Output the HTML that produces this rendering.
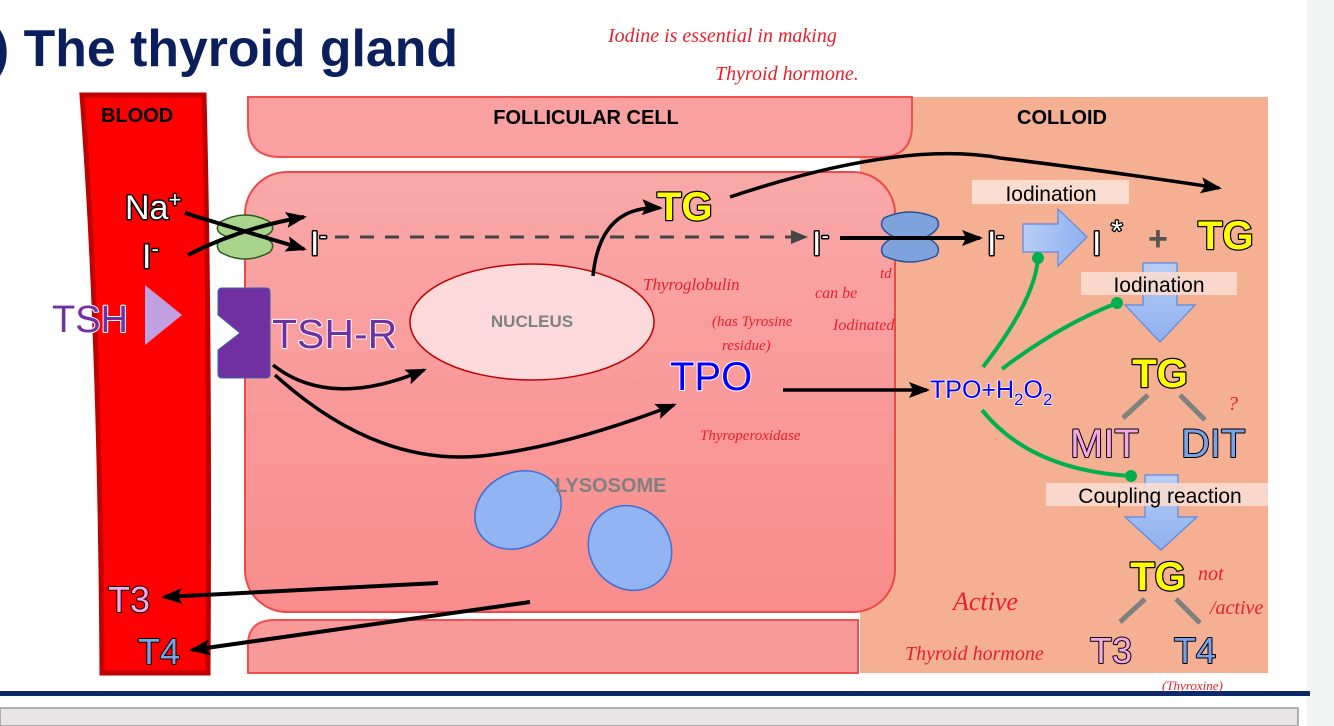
<!DOCTYPE html>
<html><head><meta charset="utf-8"><style>
html,body{margin:0;padding:0;background:#fff;width:1334px;height:726px;overflow:hidden}
svg{display:block}
.o{paint-order:stroke;stroke-linejoin:round}
</style></head><body>
<svg width="1334" height="726" viewBox="0 0 1334 726" xmlns="http://www.w3.org/2000/svg" font-family="Liberation Sans, sans-serif">
<defs>
<linearGradient id="cg" x1="0" y1="0" x2="0" y2="1"><stop offset="0" stop-color="#f9a8a8"/><stop offset="1" stop-color="#f98c8c"/></linearGradient>
<linearGradient id="ba" x1="0" y1="0" x2="1" y2="0"><stop offset="0" stop-color="#b8cdf5"/><stop offset="1" stop-color="#8fb0f0"/></linearGradient>
<linearGradient id="bd" x1="0" y1="0" x2="0" y2="1"><stop offset="0" stop-color="#b8cdf5"/><stop offset="1" stop-color="#8fb0f0"/></linearGradient>
<marker id="ah" markerWidth="22" markerHeight="18" refX="18" refY="9" orient="auto" markerUnits="userSpaceOnUse"><path d="M0,1 L21,9 L0,17 L4,9z" fill="#000"/></marker>
<marker id="ag" markerWidth="18" markerHeight="16" refX="15" refY="8" orient="auto" markerUnits="userSpaceOnUse"><path d="M0,1 L17,8 L0,15z" fill="#444"/></marker>
</defs>
<rect x="1307" y="0" width="27" height="726" fill="#f3f4f4"/>
<text x="-8" y="66" font-size="52" font-weight="bold" fill="#0b1f5c" textLength="466" lengthAdjust="spacingAndGlyphs">) The thyroid gland</text>
<rect x="860" y="97" width="408" height="576" fill="#f5af92"/>
<path d="M248,97 H912 V125 Q912,157 880,157 H280 Q248,157 248,125 Z" fill="#f9a0a0" stroke="#f05050" stroke-width="2"/>
<rect x="245" y="172" width="650" height="440" rx="42" fill="url(#cg)" stroke="#f04848" stroke-width="2"/>
<path d="M248,673 V645 Q248,620 275,620 H858 V673 Z" fill="#f99a9a" stroke="#f05050" stroke-width="2"/>
<path d="M82,95 H204 Q210,330 208,673 H102 Q100,330 82,95 Z" fill="#ff0000" stroke="#c00000" stroke-width="5"/>
<text x="101" y="122" font-size="20" font-weight="bold">BLOOD</text>
<text x="586" y="124" font-size="20" font-weight="bold" text-anchor="middle">FOLLICULAR CELL</text>
<text x="1062" y="124" font-size="20" font-weight="bold" text-anchor="middle">COLLOID</text>
<rect x="0" y="691" width="1310" height="5" fill="#0b2a6a"/>
<rect x="0" y="708" width="1298" height="18" fill="#e8e6e6" stroke="#999" stroke-width="1.5"/>
<ellipse cx="532" cy="322" rx="122" ry="58" fill="#fcd9da" stroke="#c00000" stroke-width="1.5"/>
<text x="532" y="327" font-size="17" font-weight="bold" fill="#808080" text-anchor="middle">NUCLEUS</text>
<ellipse cx="518" cy="510" rx="45" ry="37" transform="rotate(-30 518 510)" fill="#93b4f3" stroke="#3a6fd8" stroke-width="1.5"/>
<ellipse cx="630" cy="548" rx="44" ry="40" transform="rotate(50 630 548)" fill="#93b4f3" stroke="#3a6fd8" stroke-width="1.5"/>
<text x="555" y="492" font-size="20" font-weight="bold" fill="#808080">LYSOSOME</text>
<text x="125" y="219" font-size="34" fill="#fff" stroke="#000" stroke-width="3" class="o">Na<tspan font-size="22" dy="-12">+</tspan></text>
<text x="142" y="268" font-size="34" fill="#fff" stroke="#000" stroke-width="3" class="o">I<tspan font-size="22" dy="-12">-</tspan></text>
<path d="M220,222 Q245,208 270,222 Q278,232 262,237 Q278,242 270,252 Q245,266 220,252 Q212,242 228,237 Q212,232 220,222Z" fill="#a8d48c" stroke="#2d5a1e" stroke-width="1.5"/>
<path d="M185,213 Q240,230 304,249" fill="none" stroke="#000" stroke-width="4" marker-end="url(#ah)"/>
<path d="M188,255 Q240,228 304,217" fill="none" stroke="#000" stroke-width="4" marker-end="url(#ah)"/>
<text x="310" y="255" font-size="34" fill="#fff" stroke="#000" stroke-width="3" class="o">I<tspan font-size="22" dy="-12">-</tspan></text>
<line x1="335" y1="237" x2="806" y2="237" stroke="#444" stroke-width="3" stroke-dasharray="14,11" marker-end="url(#ag)"/>
<text x="812" y="255" font-size="34" fill="#fff" stroke="#000" stroke-width="3" class="o">I<tspan font-size="22" dy="-12">-</tspan></text>
<path d="M884,218 Q910,206 936,218 Q944,228 926,237 Q944,246 936,256 Q910,268 884,256 Q876,246 894,237 Q876,228 884,218Z" fill="#7ea3dc" stroke="#2a4f9c" stroke-width="1.5"/>
<line x1="840" y1="238" x2="980" y2="238" stroke="#000" stroke-width="4" marker-end="url(#ah)"/>
<text x="987" y="255" font-size="34" fill="#fff" stroke="#000" stroke-width="3" class="o">I<tspan font-size="22" dy="-12">-</tspan></text>
<rect x="972" y="180" width="157" height="24" fill="#fadcd0"/>
<text x="1051" y="201" font-size="21" text-anchor="middle">Iodination</text>
<path d="M1023,224 H1058 V209 L1087,237 L1058,266 V252 H1023 Z" fill="url(#ba)" stroke="#5a8ae0" stroke-width="1.2"/>
<text x="1092" y="255" font-size="34" fill="#fff" stroke="#000" stroke-width="3" class="o">I</text>
<text x="1111" y="241" font-size="30" fill="#fff" stroke="#000" stroke-width="2.5" class="o">*</text>
<text x="1148" y="250" font-size="34" font-weight="bold" fill="#555">+</text>
<text x="1198" y="249" font-size="40" font-weight="bold" fill="#ffff00" stroke="#000" stroke-width="2.5" class="o">TG</text>
<path d="M1143,263 H1177 V305 H1195 L1160,342 L1125,305 H1143 Z" fill="url(#bd)" stroke="#5a8ae0" stroke-width="1.2"/>
<rect x="1081" y="272" width="156" height="23" fill="#fadcd0" opacity="0.9"/>
<text x="1159" y="292" font-size="21" text-anchor="middle">Iodination</text>
<text x="1160" y="387" font-size="40" font-weight="bold" fill="#ffff00" stroke="#000" stroke-width="2.5" class="o" text-anchor="middle">TG</text>
<line x1="1148" y1="395" x2="1123" y2="418" stroke="#808080" stroke-width="5"/>
<line x1="1180" y1="395" x2="1205" y2="420" stroke="#808080" stroke-width="5"/>
<text x="1070" y="457" font-size="40" fill="#f4a8e8" stroke="#000" stroke-width="2" class="o">MIT</text>
<text x="1181" y="457" font-size="40" fill="#7aa2e6" stroke="#000" stroke-width="2" class="o">DIT</text>
<path d="M1145,475 H1178 V517 H1197 L1161,550 L1125,517 H1145 Z" fill="url(#bd)" stroke="#5a8ae0" stroke-width="1.2"/>
<rect x="1046" y="483" width="222" height="23" fill="#fadcd0" opacity="0.9"/>
<text x="1160" y="503" font-size="21" text-anchor="middle">Coupling reaction</text>
<text x="1158" y="590" font-size="40" font-weight="bold" fill="#ffff00" stroke="#000" stroke-width="2.5" class="o" text-anchor="middle">TG</text>
<line x1="1145" y1="599" x2="1120" y2="622" stroke="#808080" stroke-width="5"/>
<line x1="1176" y1="599" x2="1200" y2="623" stroke="#808080" stroke-width="5"/>
<text x="1090" y="663" font-size="36" fill="#f4a8e8" stroke="#000" stroke-width="2" class="o">T3</text>
<text x="1174" y="663" font-size="36" fill="#7aa2e6" stroke="#000" stroke-width="2" class="o">T4</text>
<text x="52" y="332" font-size="38" fill="#7030a0" stroke="#fff" stroke-width="2" class="o">TSH</text>
<path d="M145,285 L182,315 L145,345 Z" fill="#c0a0e0"/>
<path d="M222,288 H266 Q270,288 270,292 V374 Q270,378 266,378 H222 Q218,378 218,374 V350 L240,333 L218,315 V292 Q218,288 222,288Z" fill="#7030a0" stroke="#3a5fb0" stroke-width="1"/>
<text x="272" y="348" font-size="41" fill="#7030a0" stroke="#fff" stroke-width="2" class="o">TSH-R</text>
<path d="M273,365 Q330,410 424,370" fill="none" stroke="#000" stroke-width="3.5" marker-end="url(#ah)"/>
<path d="M275,375 Q380,470 490,455 Q570,445 674,405" fill="none" stroke="#000" stroke-width="3.5" marker-end="url(#ah)"/>
<path d="M593,276 Q600,205 660,208" fill="none" stroke="#000" stroke-width="3.5" marker-end="url(#ah)"/>
<text x="657" y="220" font-size="40" font-weight="bold" fill="#ffff00" stroke="#000" stroke-width="2.5" class="o">TG</text>
<path d="M730,197 Q900,140 1000,158 Q1100,170 1219,188" fill="none" stroke="#000" stroke-width="3.5" marker-end="url(#ah)"/>
<text x="670" y="390" font-size="40" fill="#0000ff" stroke="#fff" stroke-width="2" class="o">TPO</text>
<line x1="783" y1="390" x2="927" y2="390" stroke="#000" stroke-width="3.5" marker-end="url(#ah)"/>
<text x="930" y="398" font-size="25" fill="#0000ff" stroke="#fff" stroke-width="1.5" class="o">TPO+H<tspan font-size="17" dy="7">2</tspan><tspan dy="-7">O</tspan><tspan font-size="17" dy="7">2</tspan></text>
<path d="M983,367 Q1035,300 1038,258" fill="none" stroke="#00b050" stroke-width="4"/>
<circle cx="1038" cy="258" r="6" fill="#00b050"/>
<path d="M1002,369 Q1060,325 1117,303" fill="none" stroke="#00b050" stroke-width="4"/>
<circle cx="1117" cy="303" r="6" fill="#00b050"/>
<path d="M982,410 Q1030,470 1131,476" fill="none" stroke="#00b050" stroke-width="4"/>
<circle cx="1131" cy="476" r="6" fill="#00b050"/>
<text x="108" y="612" font-size="36" fill="#f4a8e8" stroke="#000" stroke-width="2" class="o">T3</text>
<text x="138" y="664" font-size="36" fill="#7aa2e6" stroke="#000" stroke-width="2" class="o">T4</text>
<line x1="438" y1="583" x2="164" y2="597" stroke="#000" stroke-width="4" marker-end="url(#ah)"/>
<line x1="530" y1="602" x2="192" y2="650" stroke="#000" stroke-width="4" marker-end="url(#ah)"/>
<g fill="#e8202a" font-family="Liberation Serif, serif" font-style="italic">
<text x="608" y="42" font-size="20">Iodine is essential in making</text>
<text x="715" y="80" font-size="20">Thyroid hormone.</text>
<text x="643" y="290" font-size="17">Thyroglobulin</text>
<text x="815" y="298" font-size="16">can be</text>
<text x="712" y="326" font-size="15">(has Tyrosine</text>
<text x="833" y="330" font-size="16">Iodinated</text>
<text x="722" y="350" font-size="15">residue)</text>
<text x="700" y="440" font-size="15">Thyroperoxidase</text>
<text x="953" y="610" font-size="26">Active</text>
<text x="905" y="660" font-size="20">Thyroid hormone</text>
<text x="1198" y="580" font-size="20">not</text>
<text x="1210" y="614" font-size="20">/active</text>
<text x="1162" y="690" font-size="13">(Thyroxine)</text>
<text x="1228" y="410" font-size="20">?</text>
<text x="880" y="278" font-size="15">td</text>
</g>
</svg>
</body></html>
